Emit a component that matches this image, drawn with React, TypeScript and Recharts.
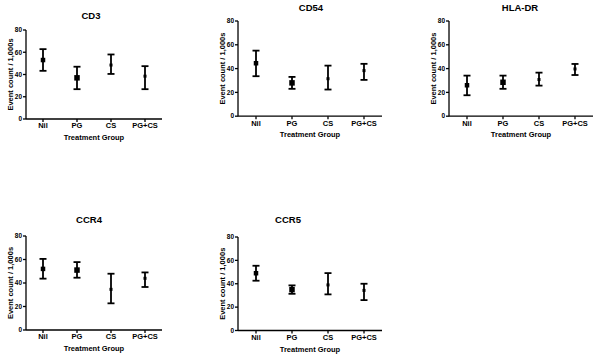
import React from "react";
import { ComposedChart, Line, XAxis, YAxis, ErrorBar } from "recharts";

const CATEGORIES = ["Nil", "PG", "CS", "PG+CS"];
const Y_TICKS = [0, 20, 40, 60, 80];

const CD3_MEAN = [53, 37, 48.5, 38.5];
const CD3_LOW = [43.3, 26.8, 40.5, 26.8];
const CD3_HIGH = [62.8, 47, 58, 47.5];

const CD54_MEAN = [44.5, 28, 31.5, 38.3];
const CD54_LOW = [33.6, 23, 22.4, 30.5];
const CD54_HIGH = [55.1, 33, 42.5, 44];

const HLADR_MEAN = [26, 28.5, 30.8, 39.7];
const HLADR_LOW = [17.6, 23, 25.7, 34.6];
const HLADR_HIGH = [34.1, 34.1, 36.6, 43.9];

const CCR4_MEAN = [52, 51, 34.6, 44];
const CCR4_LOW = [43.7, 44.5, 22.7, 36.6];
const CCR4_HIGH = [60.5, 57.8, 47.9, 49];

const CCR5_MEAN = [49, 35, 39, 34.3];
const CCR5_LOW = [42.6, 31.4, 30.9, 26];
const CCR5_HIGH = [55.4, 38.6, 49.1, 40];

// marker size per group (style only)
const MARKER_SIZE = [4.5, 5.5, 3, 3];

const FONT = '"Liberation Sans", Arial, sans-serif';
const YW = 30;
const XH = 24;
const PAD = 6;

function buildRows(mean: number[], low: number[], high: number[]) {
    return CATEGORIES.map((group, i) => ({
        group,
        mean: mean[i],
        err: [mean[i] - low[i], high[i] - mean[i]],
    }));
}

function Square(props: any) {
    const { cx, cy, index } = props;
    if (cx == null || cy == null) return <g key={index} />;
    const s = MARKER_SIZE[index] ?? 3;
    return <rect key={index} x={cx - s / 2} y={cy - s / 2} width={s} height={s} fill="#000" />;
}

type PanelProps = {
    title: string;
    mean: number[];
    low: number[];
    high: number[];
    axisX: number;
    axisRight: number;
    y80: number;
    y0: number;
    titleX: number;
    titleY: number;
};

function Panel({ title, mean, low, high, axisX, axisRight, y80, y0, titleX, titleY }: PanelProps) {
    const data = buildRows(mean, low, high);
    const width = YW + (axisRight - axisX) + PAD;
    const height = PAD + (y0 - y80) + XH;

    return (
        <>
            <div
                style={{
                    position: "absolute",
                    left: titleX,
                    top: titleY,
                    transform: "translate(-50%, -50%)",
                    fontFamily: FONT,
                    fontWeight: 700,
                    fontSize: 9.5,
                    lineHeight: 1,
                    whiteSpace: "nowrap",
                    color: "#000",
                }}
            >
                {title}
            </div>
            <div style={{ position: "absolute", left: axisX - YW, top: y80 - PAD }}>
                <ComposedChart
                    width={width}
                    height={height}
                    data={data}
                    margin={{ top: PAD, right: PAD, left: 0, bottom: 0 }}
                    style={{ fontFamily: FONT }}
                >
                    <XAxis
                        dataKey="group"
                        type="category"
                        scale="band"
                        height={XH}
                        interval={0}
                        tickSize={3}
                        tickMargin={1}
                        stroke="#000"
                        strokeWidth={1.3}
                        tick={{ fontSize: 7.5, fontWeight: 700, fill: "#000" }}
                        label={{
                            value: "Treatment Group",
                            position: "insideBottom",
                            offset: 3,
                            style: { fontSize: 7.5, fontWeight: 700, fill: "#000" },
                        }}
                    />
                    <YAxis
                        type="number"
                        domain={[0, 80]}
                        ticks={Y_TICKS}
                        width={YW}
                        tickSize={3}
                        tickMargin={1}
                        stroke="#000"
                        strokeWidth={1.3}
                        tick={{ fontSize: 6.5, fontWeight: 700, fill: "#000" }}
                        label={{
                            value: "Event count / 1,000s",
                            angle: -90,
                            position: "insideLeft",
                            offset: 14,
                            style: { textAnchor: "middle", fontSize: 7.5, fontWeight: 700, fill: "#000" },
                        }}
                    />
                    <Line
                        dataKey="mean"
                        stroke="none"
                        dot={Square}
                        activeDot={false}
                        isAnimationActive={false}
                    >
                        <ErrorBar dataKey="err" width={3.5} strokeWidth={1.8} stroke="#000" direction="y" />
                    </Line>
                </ComposedChart>
            </div>
        </>
    );
}

export default function App() {
    return (
        <div style={{ position: "absolute", left: 0, top: 0, width: 600, height: 357, background: "#fff" }}>
            <Panel title="CD3" mean={CD3_MEAN} low={CD3_LOW} high={CD3_HIGH}
                axisX={26} axisRight={162} y80={29.5} y0={118.5} titleX={91} titleY={15.5} />
            <Panel title="CD54" mean={CD54_MEAN} low={CD54_LOW} high={CD54_HIGH}
                axisX={238} axisRight={382} y80={21.3} y0={116.5} titleX={311} titleY={8.3} />
            <Panel title="HLA-DR" mean={HLADR_MEAN} low={HLADR_LOW} high={HLADR_HIGH}
                axisX={449} axisRight={593} y80={21.3} y0={116.5} titleX={520} titleY={8.3} />
            <Panel title="CCR4" mean={CCR4_MEAN} low={CCR4_LOW} high={CCR4_HIGH}
                axisX={26} axisRight={162} y80={236} y0={330} titleX={89} titleY={220} />
            <Panel title="CCR5" mean={CCR5_MEAN} low={CCR5_LOW} high={CCR5_HIGH}
                axisX={238} axisRight={382} y80={236.5} y0={330} titleX={288} titleY={220} />
        </div>
    );
}
